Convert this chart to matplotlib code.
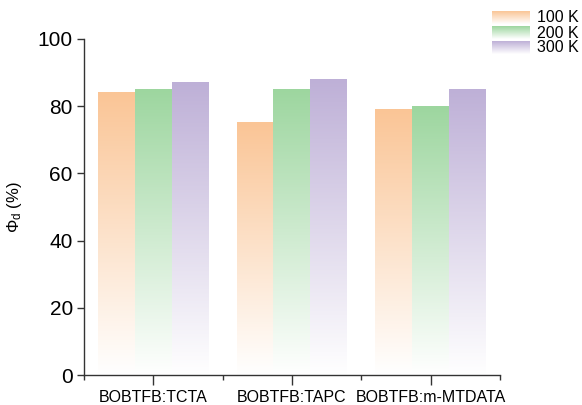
import numpy as np
import matplotlib
matplotlib.use("Agg")
import matplotlib.pyplot as plt
from matplotlib.colors import to_rgb
from matplotlib.ticker import FixedLocator

plt.rcParams['font.family'] = ['Liberation Sans', 'DejaVu Sans']
plt.rcParams['mathtext.fontset'] = 'custom'
plt.rcParams['mathtext.rm'] = 'Liberation Sans'
plt.rcParams['mathtext.it'] = 'Liberation Sans:italic'

categories = ["BOBTFB:TCTA", "BOBTFB:TAPC", "BOBTFB:m-MTDATA"]
series_labels = ["100 K", "200 K", "300 K"]
phi_100K = [84, 75, 79]
phi_200K = [85, 85, 80]
phi_300K = [87, 88, 85]
series_values = [phi_100K, phi_200K, phi_300K]
series_colors = ["#FAC596", "#9DD69F", "#BEB0D7"]


def gradient_image(color, n=256):
    """Vertical gradient from white (bottom) to the given colour (top)."""
    c = np.array(to_rgb(color))
    t = np.linspace(0, 1, n)[:, None]
    rgb = (1 - t) * np.ones(3) + t * c
    return rgb[:, None, :]


fig = plt.figure(figsize=(5.82, 4.05), dpi=100)
ax = fig.add_axes([0.1443, 0.074, 0.7148, 0.830])

x = np.arange(1, len(categories) + 1)
width = 0.8 / len(series_values)
for i, (vals, col) in enumerate(zip(series_values, series_colors)):
    offs = x - 0.4 + width * (i + 0.5)
    bars = ax.bar(offs, vals, width, color='none', edgecolor='none')
    for b in bars:
        x0 = b.get_x()
        h = b.get_height()
        ax.imshow(gradient_image(col), origin='lower', aspect='auto',
                  extent=(x0, x0 + b.get_width(), 0, h), zorder=2,
                  interpolation='bilinear')

ax.set_xlim(0.5, 3.5)
ax.set_ylim(0, 100)
ax.set_yticks([0, 20, 40, 60, 80, 100])
ax.set_xticks(x)
ax.set_xticklabels(categories, fontsize=11.5)
ax.xaxis.set_minor_locator(FixedLocator([0.5, 1.5, 2.5, 3.5]))
ax.tick_params(axis='y', labelsize=15, direction='out', length=5, width=1,
               color='#333333', pad=3)
ax.tick_params(axis='x', which='major', direction='out', length=7, width=1,
               color='#333333', pad=4)
ax.tick_params(axis='x', which='minor', direction='out', length=3.5, width=1,
               color='#333333')
for s in ['top', 'right']:
    ax.spines[s].set_visible(False)
for s in ['left', 'bottom']:
    ax.spines[s].set_color('#333333')
    ax.spines[s].set_linewidth(1)

ax.set_ylabel(r'$\Phi_{\mathrm{d}}$ (%)', fontsize=12, labelpad=10)

# legend with gradient swatches, drawn in pixel coordinates of an overlay
ov = fig.add_axes([0, 0, 1, 1], zorder=5)
ov.set_xlim(0, 582)
ov.set_ylim(405, 0)
ov.axis('off')
row_y = [18, 33, 48]
for yc, lab, col in zip(row_y, series_labels, series_colors):
    ov.imshow(gradient_image(col), origin='lower', aspect='auto',
              extent=(492, 530, yc + 6, yc - 7), interpolation='bilinear')
    ov.text(537, yc, lab, fontsize=11.5, va='center', ha='left')
ov.set_xlim(0, 582)
ov.set_ylim(405, 0)

fig.savefig("out.png", dpi=100)
